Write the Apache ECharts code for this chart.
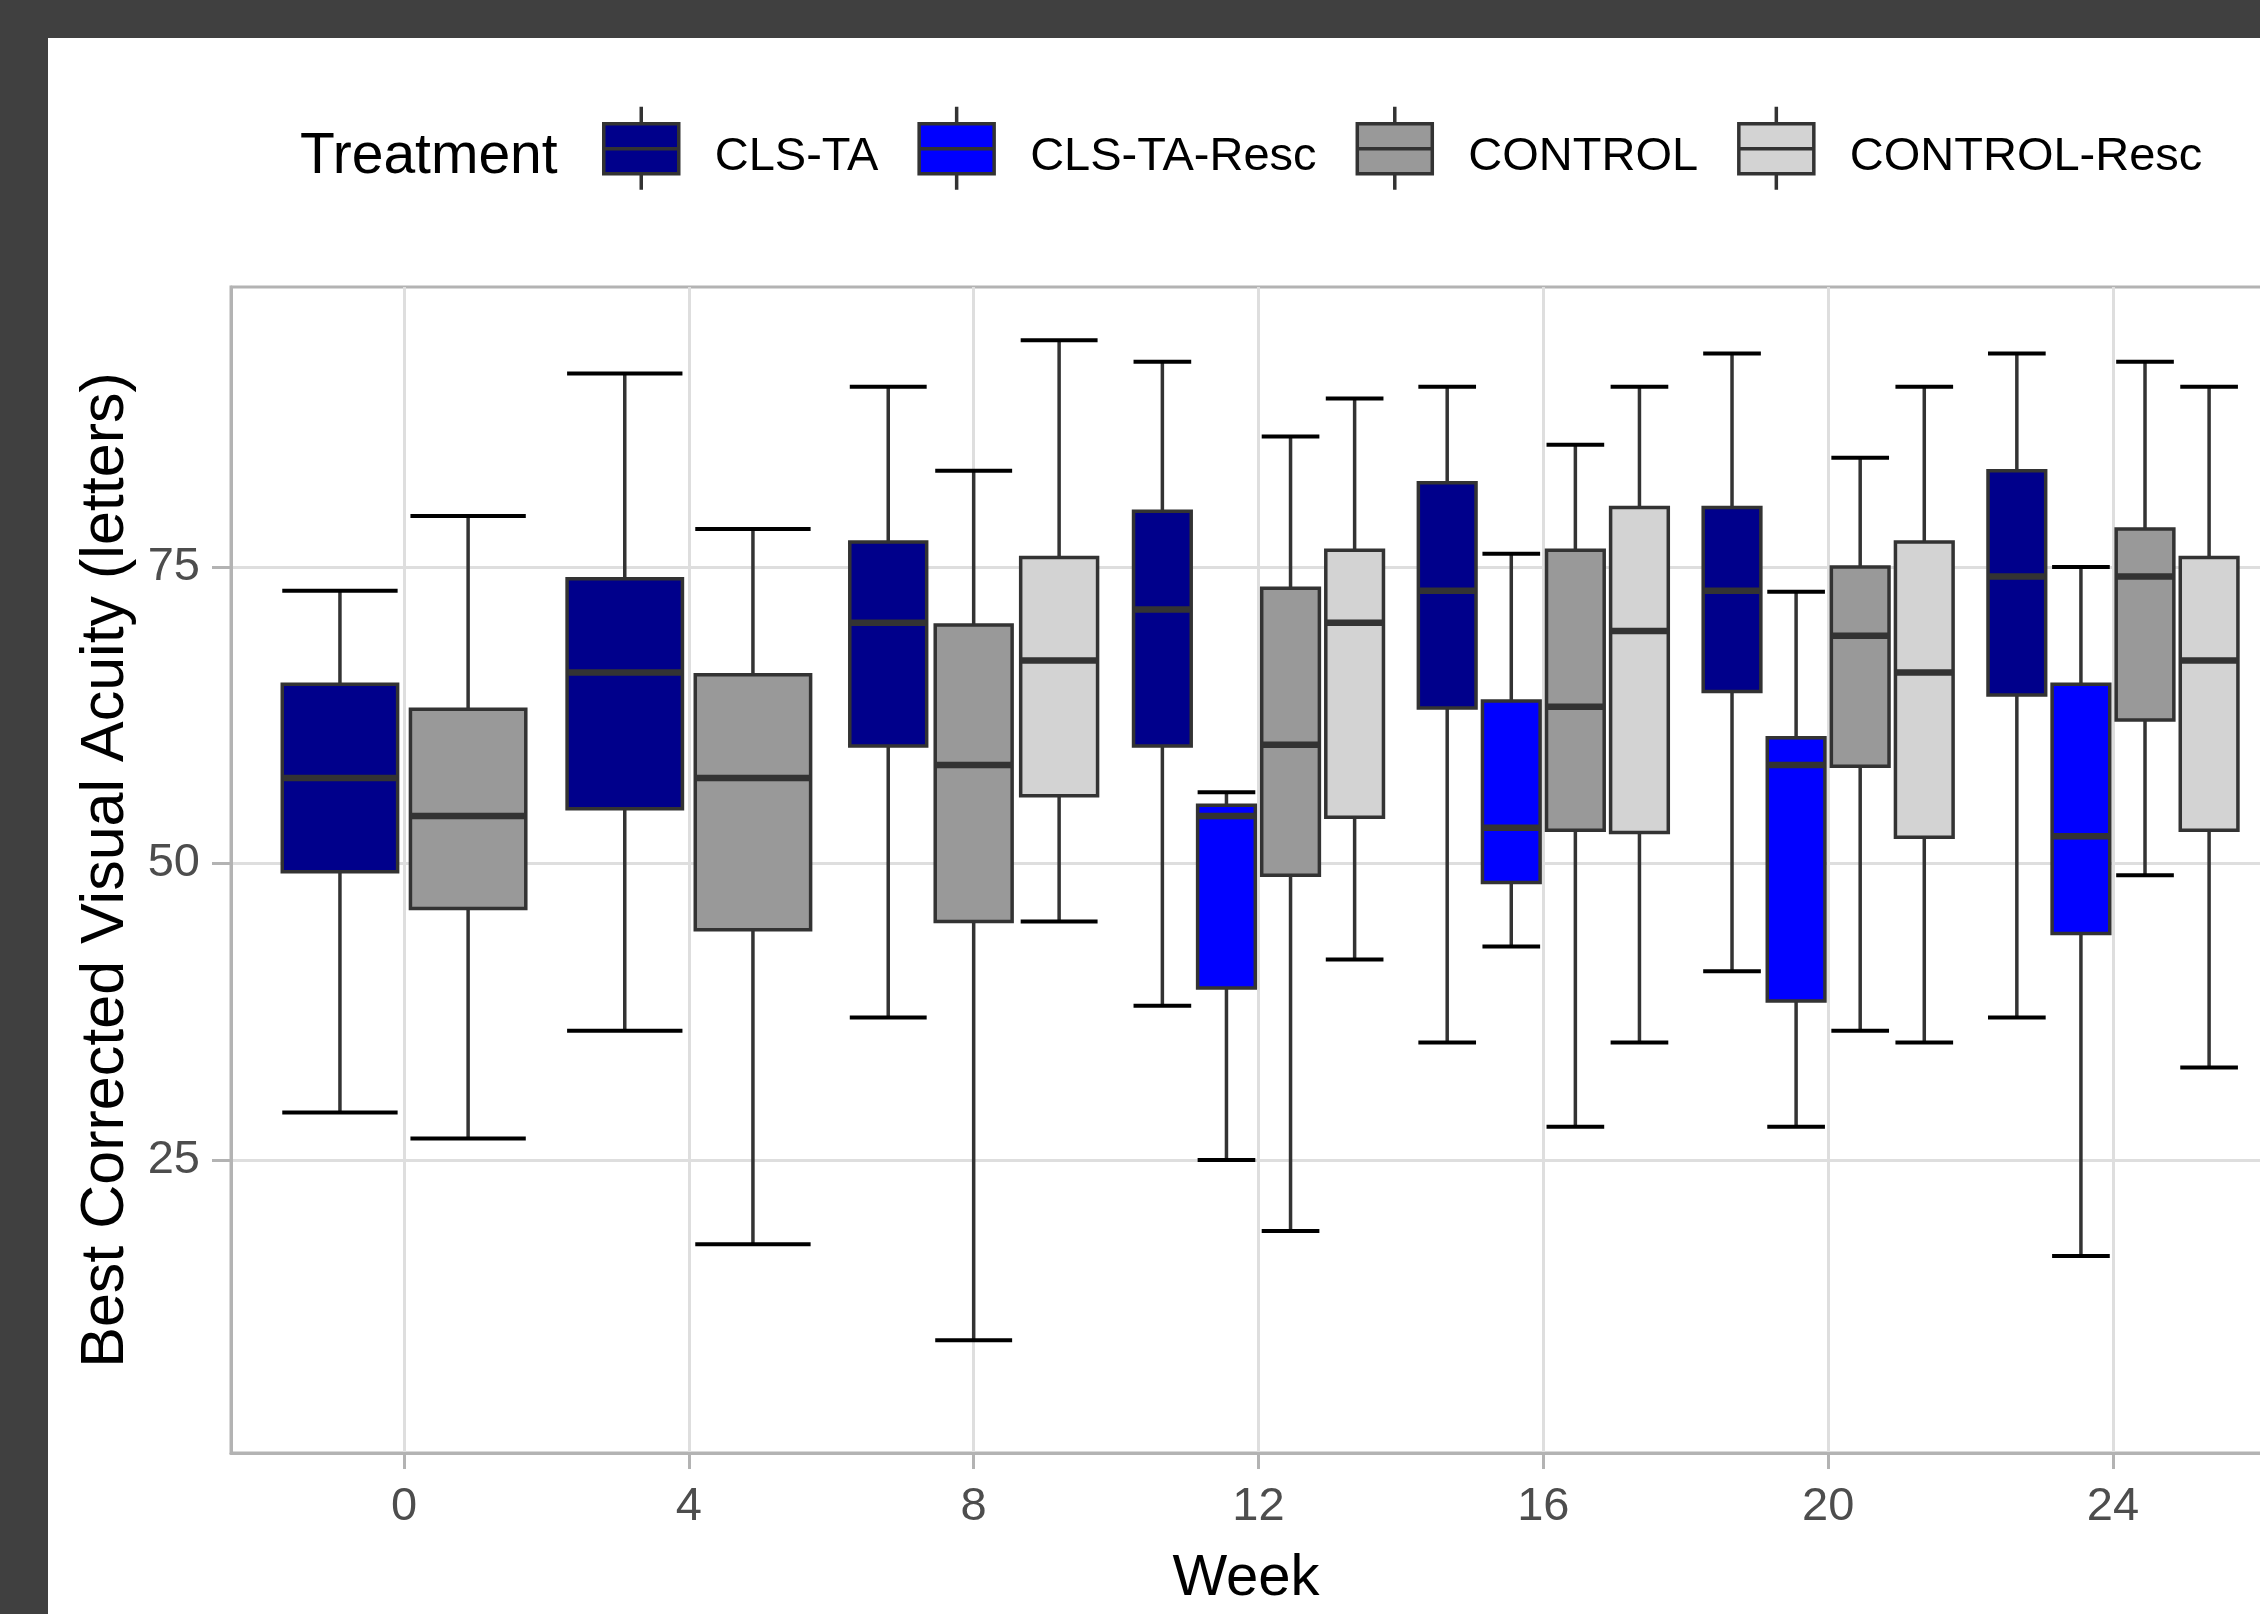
<!DOCTYPE html>
<html><head><meta charset="utf-8">
<script src="https://cdn.jsdelivr.net/npm/echarts@6/dist/echarts.min.js"></script>
<style>
html,body{margin:0;padding:0;background:#404040;overflow:hidden;width:2260px;height:1614px;}
#chart{position:absolute;left:48px;top:38px;width:2260px;height:1576px;background:#ffffff;}
</style></head><body><div id="chart"></div>
<script>
// ---- data ----
const weeks = [0, 4, 8, 12, 16, 20, 24];
const treatments = ['CLS-TA', 'CLS-TA-Resc', 'CONTROL', 'CONTROL-Resc'];
const colors = ['#00008B', '#0000FF', '#999999', '#D3D3D3'];
// each entry: [lower whisker, Q1, median, Q3, upper whisker], null = no box that week
const clsTA = [
  [29.0, 49.3, 57.2, 65.1, 73.0],
  [35.9, 54.6, 66.1, 74.0, 91.3],
  [37.0, 59.9, 70.3, 77.1, 90.2],
  [38.0, 59.9, 71.4, 79.7, 92.3],
  [34.9, 63.1, 73.0, 82.1, 90.2],
  [40.9, 64.5, 73.0, 80.0, 93.0],
  [37.0, 64.2, 74.2, 83.1, 93.0]
];
const clsTAResc = [
  null, null, null,
  [25.0, 39.5, 54.0, 54.9, 56.0],
  [43.0, 48.4, 53.0, 63.7, 76.1],
  [27.8, 38.4, 58.3, 60.6, 72.9],
  [16.9, 44.1, 52.3, 65.1, 75.0]
];
const control = [
  [26.8, 46.2, 54.0, 63.0, 79.3],
  [17.9, 44.4, 57.2, 65.9, 78.2],
  [9.8, 45.1, 58.3, 70.1, 83.1],
  [19.0, 49.0, 60.0, 73.2, 86.0],
  [27.8, 52.8, 63.2, 76.4, 85.3],
  [35.9, 58.2, 69.2, 75.0, 84.2],
  [49.0, 62.1, 74.2, 78.2, 92.3]
];
const controlResc = [
  null, null,
  [45.1, 55.7, 67.1, 75.8, 94.1],
  [41.9, 53.9, 70.3, 76.4, 89.2],
  [34.9, 52.6, 69.6, 80.0, 90.2],
  [34.9, 52.2, 66.1, 77.1, 90.2],
  [32.8, 52.8, 67.1, 75.8, 90.2]
];
const xTicks = [0, 4, 8, 12, 16, 20, 24];
const yTicks = [25, 50, 75];

// ---- dodge (like ggplot position_dodge2) ----
const allStats = [clsTA, clsTAResc, control, controlResc];
const DODGE = 0.9 * 4, PAD = 0.1;
const seriesData = treatments.map(() => []);
weeks.forEach((w, wi) => {
  const present = [];
  allStats.forEach((s, ti) => { if (s[wi]) present.push(ti); });
  const slot = DODGE / present.length;
  present.forEach((ti, k) => {
    const cx = w - DODGE / 2 + slot * (k + 0.5);
    const half = slot * (1 - PAD) / 2;
    seriesData[ti].push([cx, half].concat(allStats[ti][wi]));
  });
});

const FONT = "'Liberation Sans', Arial, Helvetica, sans-serif";

function renderBox(params, api) {
  const cx = api.value(0), hw = api.value(1);
  const lo = api.value(2), q1 = api.value(3), med = api.value(4), q3 = api.value(5), hi = api.value(6);
  const pHi = api.coord([cx, hi]), pLo = api.coord([cx, lo]);
  const pQ3 = api.coord([cx, q3]), pQ1 = api.coord([cx, q1]), pMed = api.coord([cx, med]);
  const left = api.coord([cx - hw, med])[0], right = api.coord([cx + hw, med])[0];
  const color = api.visual('color');
  return {
    type: 'group',
    children: [
      { type: 'line', shape: { x1: pHi[0], y1: pHi[1], x2: pQ3[0], y2: pQ3[1] }, style: { stroke: '#333333', lineWidth: 3.5 } },
      { type: 'line', shape: { x1: pLo[0], y1: pLo[1], x2: pQ1[0], y2: pQ1[1] }, style: { stroke: '#333333', lineWidth: 3.5 } },
      { type: 'line', shape: { x1: left, y1: pHi[1], x2: right, y2: pHi[1] }, style: { stroke: '#000000', lineWidth: 4 } },
      { type: 'line', shape: { x1: left, y1: pLo[1], x2: right, y2: pLo[1] }, style: { stroke: '#000000', lineWidth: 4 } },
      { type: 'rect', shape: { x: left, y: pQ3[1], width: right - left, height: pQ1[1] - pQ3[1] }, style: { fill: color, stroke: '#333333', lineWidth: 3.5 } },
      { type: 'line', shape: { x1: left, y1: pMed[1], x2: right, y2: pMed[1] }, style: { stroke: '#333333', lineWidth: 6.5 } }
    ]
  };
}

const TICK_COLOR = '#b3b3b3';
const chart = echarts.init(document.getElementById('chart'), null, { renderer: 'canvas' });
chart.setOption({
  animation: false,
  backgroundColor: '#ffffff',
  textStyle: { fontFamily: FONT },
  grid: {
    left: 183, right: 22, top: 249, bottom: 161,
    show: true, borderColor: '#b3b3b3', borderWidth: 3, backgroundColor: 'transparent',
    outerBoundsMode: 'none'
  },
  legend: {
    left: 554, top: 67, padding: 0,
    itemWidth: 75, itemHeight: 101, itemGap: 39,
    selectedMode: false,
    icon: 'path://M37.5 0L37.5 17M0 17L75 17L75 42L0 42ZM0 42L75 42L75 67L0 67ZM37.5 67L37.5 83M37.5 101L37.5 101',
    itemStyle: { borderColor: '#333333', borderWidth: 3.5 },
    textStyle: { fontFamily: FONT, fontSize: 47, color: '#000000', padding: [0, 0, 0, 31] },
    data: treatments
  },
  graphic: [
    { type: 'text', x: 252, y: 119, style: { text: 'Treatment', fontFamily: FONT, fontSize: 57, fill: '#000000', verticalAlign: 'middle' } }
  ],
  xAxis: {
    type: 'value', min: -2.43, max: 26.43,
    axisLine: { show: true, onZero: false, lineStyle: { color: '#b3b3b3', width: 3 } },
    axisTick: { show: true, inside: false, customValues: xTicks, length: 16, lineStyle: { color: TICK_COLOR, width: 3 } },
    axisLabel: { customValues: xTicks, margin: 31, fontSize: 47, color: '#4d4d4d', fontFamily: FONT },
    splitLine: { show: true, lineStyle: { color: '#dedede', width: 3 } },
    name: 'Week', nameLocation: 'middle', nameGap: 97,
    nameTextStyle: { fontSize: 58, color: '#000000', fontFamily: FONT, padding: [0, 25, 0, 0] }
  },
  yAxis: {
    type: 'value', min: 0.29, max: 98.6,
    axisLine: { show: true, onZero: false, lineStyle: { color: '#b3b3b3', width: 3 } },
    axisTick: { show: true, inside: false, customValues: yTicks, length: 19, lineStyle: { color: TICK_COLOR, width: 3 } },
    axisLabel: { customValues: yTicks, margin: 31, fontSize: 47, color: '#4d4d4d', fontFamily: FONT },
    splitLine: { show: true, lineStyle: { color: '#dedede', width: 3 } },
    name: 'Best Corrected Visual Acuity (letters)', nameLocation: 'middle', nameGap: 92, nameRotate: 90,
    nameTextStyle: { fontSize: 61, color: '#000000', fontFamily: FONT }
  },
  series: treatments.map((t, i) => ({
    name: t,
    type: 'custom',
    renderItem: renderBox,
    itemStyle: { color: colors[i] },
    encode: { x: 0, y: [2, 3, 4, 5, 6] },
    data: seriesData[i]
  }))
});
</script></body></html>
